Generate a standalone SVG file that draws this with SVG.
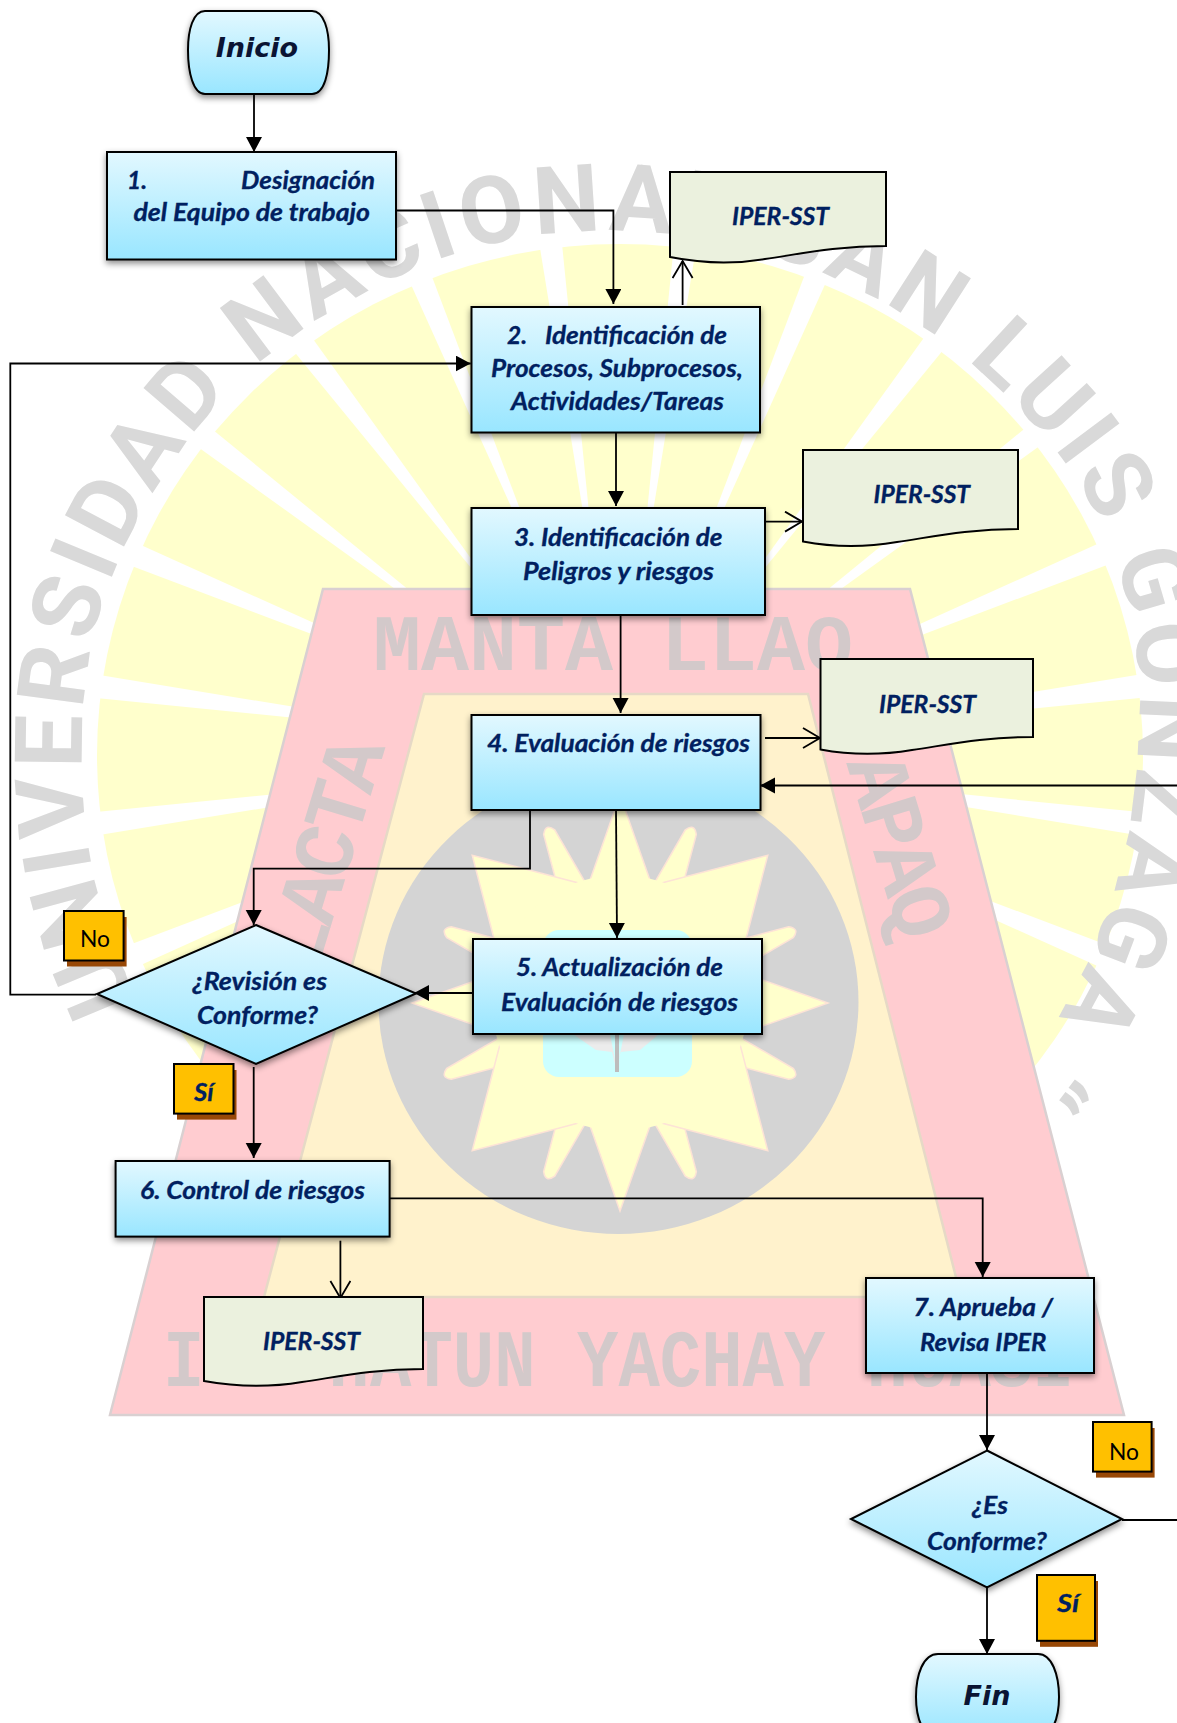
<svg xmlns="http://www.w3.org/2000/svg" width="1177" height="1723" viewBox="0 0 1177 1723">
<style>
text{font-family:"Lato","Open Sans","Liberation Sans",sans-serif}
.t{font-size:24px;font-weight:700;font-style:italic;fill:#002060;stroke:#002060;stroke-width:.3px}
.n{font-size:24px;font-weight:400;fill:#000}
.term{font-family:"DejaVu Sans",Verdana,sans-serif;font-size:27px;font-weight:700;font-style:italic;fill:#0a1433;text-anchor:middle}
.box{fill:url(#bg);stroke:#000;stroke-width:2;filter:url(#sh)}
.doc{fill:#ebf1de;stroke:#000;stroke-width:2}
.tag{fill:#ffc000;stroke:#000;stroke-width:2}
.tagsh{fill:#984806}
.c{fill:none;stroke:#000;stroke-width:1.8}
.solid{marker-end:url(#ah)}
.open{marker-end:url(#oh)}
.wm{font-family:"Liberation Mono",monospace;font-weight:700;fill:#d3c9ca}
.arc{font-family:Roboto,"Liberation Sans",sans-serif;font-size:94px;font-weight:700;fill:#d9d9d9;letter-spacing:5.8px}
</style>
<defs>
<linearGradient id="bg" x1="0" y1="0" x2="0" y2="1"><stop offset="0" stop-color="#e2f8ff"/><stop offset="1" stop-color="#99e6ff"/></linearGradient>
<filter id="sh" x="-10%" y="-10%" width="120%" height="125%"><feDropShadow dx="0" dy="3" stdDeviation="3" flood-color="#000" flood-opacity=".45"/></filter>
<marker id="ah" markerUnits="userSpaceOnUse" markerWidth="18" markerHeight="18" refX="15" refY="8" orient="auto"><path d="M0,0 L15,8 L0,16Z" fill="#000"/></marker>
<marker id="oh" markerUnits="userSpaceOnUse" markerWidth="22" markerHeight="24" refX="18" refY="11" orient="auto"><path d="M1,1 L18,11 L1,21" fill="none" stroke="#000" stroke-width="1.8"/></marker>
<polygon id="gap" points="0,-150 -12,-540 12,-540" fill="#fff"/>
<polygon id="rayA" points="-31,-120 0,-208 31,-120" fill="#ffffcc" stroke="#fde3d6" stroke-width="1.5"/>
<polygon id="rayB" points="-58,-110 0,-209 58,-110" fill="#ffffcc" stroke="#fde3d6" stroke-width="1.5"/>
<path id="rayC" d="M-14,-125 L-6,-185 Q0,-195 6,-185 L14,-125Z" fill="#ffffcc" stroke="#fde3d6" stroke-width="1.5"/>
<path id="ring" d="M150.4,1025 A530,530 0 0 1 98.3,894.3 A530,530 0 0 1 82,755 A530,530 0 0 1 98.3,615.7 A530,530 0 0 1 156.4,488.5 A530,530 0 0 1 241.8,378.8 A530,530 0 0 1 354.5,298.6 A530,530 0 0 1 481.6,245.9 A530,530 0 0 1 618,231 A530,530 0 0 1 753.1,250.8 A530,530 0 0 1 880,301.2 A530,530 0 0 1 991.3,381.6 A530,530 0 0 1 1082.2,487 A530,530 0 0 1 1131.9,617.3 A530,530 0 0 1 1137,755 A530,530 0 0 1 1114.5,888 A530,530 0 0 1 1061.4,1011 A530,530 0 0 1 980,1117 A530,530 0 0 1 870,1200"/>
</defs>

<g id="watermark">
<ellipse cx="620" cy="755" rx="523" ry="511" fill="#ffffcc"/>
<g transform="translate(618 755)">
<use href="#gap" transform="rotate(7.5)"/><use href="#gap" transform="rotate(22.5)"/><use href="#gap" transform="rotate(37.5)"/><use href="#gap" transform="rotate(52.5)"/><use href="#gap" transform="rotate(67.5)"/><use href="#gap" transform="rotate(82.5)"/><use href="#gap" transform="rotate(97.5)"/><use href="#gap" transform="rotate(112.5)"/>
<use href="#gap" transform="rotate(-7.5)"/><use href="#gap" transform="rotate(-22.5)"/><use href="#gap" transform="rotate(-37.5)"/><use href="#gap" transform="rotate(-52.5)"/><use href="#gap" transform="rotate(-67.5)"/><use href="#gap" transform="rotate(-82.5)"/><use href="#gap" transform="rotate(-97.5)"/><use href="#gap" transform="rotate(-112.5)"/>
</g>
<text class="arc"><textPath href="#ring" startOffset="28">UNIVERSIDAD NACIONAL SAN LUIS GONZAGA “</textPath></text>
<polygon points="323,589 910,589 1124,1415 110,1415" fill="#ffccd0" stroke="#d9d0d1" stroke-width="2.5"/>
<polygon points="424,694 808,694 961,1297 264,1297" fill="#fff2cc" stroke="#e6d9c6" stroke-width="2.5"/>
<ellipse cx="618.5" cy="1002" rx="240" ry="232" fill="#d4d4d4"/>
<g transform="translate(620 1003)">
<use href="#rayC" transform="rotate(22.5)"/><use href="#rayC" transform="rotate(67.5)"/><use href="#rayC" transform="rotate(112.5)"/><use href="#rayC" transform="rotate(157.5)"/><use href="#rayC" transform="rotate(202.5)"/><use href="#rayC" transform="rotate(247.5)"/><use href="#rayC" transform="rotate(292.5)"/><use href="#rayC" transform="rotate(337.5)"/>
<use href="#rayB" transform="rotate(45)"/><use href="#rayB" transform="rotate(135)"/><use href="#rayB" transform="rotate(225)"/><use href="#rayB" transform="rotate(315)"/>
<use href="#rayA"/><use href="#rayA" transform="rotate(90)"/><use href="#rayA" transform="rotate(180)"/><use href="#rayA" transform="rotate(270)"/>
<circle r="128" fill="#ffffcc"/>
</g>
<rect x="543" y="930" width="149" height="147" rx="16" fill="#ccffff"/>
<polygon points="570,1032 610,1034 617,1070 624,1034 664,1030 640,1050 620,1052 617,1072 612,1052 596,1050" fill="#ececec"/>
<rect x="615" y="1028" width="4" height="44" fill="#bdbdbd"/>
<text class="wm" x="373" y="670" font-size="80">MANTA LLAQ</text>
<text class="wm" transform="translate(163 1386) scale(1 1.18)" font-size="69" xml:space="preserve">I   HATUN YACHAY HUASI</text>
<text class="wm" transform="translate(384 752) rotate(-73)" font-size="85" letter-spacing="-5" text-anchor="end">LACTA</text>
<text class="wm" transform="translate(900 939) rotate(73)" font-size="85" letter-spacing="-5" text-anchor="end">APAQ</text>
</g>

<g id="connectors">
<path class="c solid" d="M254,94 V152"/>
<path class="c solid" d="M396,210.5 H613.4 V304"/>
<path class="c open" d="M682.6,305 V261"/>
<path class="c solid" d="M616,432 V506"/>
<path class="c open" d="M765,521.6 H802"/>
<path class="c solid" d="M620.6,615 V713"/>
<path class="c open" d="M765,738 H820"/>
<path class="c solid" d="M1177,785.5 H760"/>
<path class="c solid" d="M530,810 V868.6 H253.7 V925"/>
<path class="c solid" d="M616,810 L617,938"/>
<path class="c solid" d="M473,993 H414"/>
<path class="c solid" d="M96,994.6 H10.3 V363.5 H470.7"/>
<path class="c solid" d="M253.7,1067 V1158"/>
<path class="c solid" d="M390,1198.4 H982.7 V1277"/>
<path class="c open" d="M340.4,1240.7 V1298"/>
<path class="c solid" d="M987,1373 V1450"/>
<path class="c" d="M1122,1520 H1177"/>
<path class="c solid" d="M987,1587 V1654"/>
</g>

<g id="inicio"><path class="box" d="M205,11 H312 C324,11 329,30 329,50 C329,72 325,94 312,94 H205 C193,94 188,72 188,50 C188,30 193,11 205,11Z"/><text class="term" x="257" y="57">Inicio</text></g>
<g id="n1"><rect class="box" x="107" y="152" width="289" height="107.500"/><text class="t" x="127" y="188.500" textLength="20" lengthAdjust="spacingAndGlyphs">1.</text><text class="t" x="241" y="188.500" textLength="134" lengthAdjust="spacingAndGlyphs">Designación</text><text class="t" x="133.500" y="221" textLength="236.500" lengthAdjust="spacingAndGlyphs">del Equipo de trabajo</text></g>
<g id="n2"><rect class="box" x="471.500" y="307" width="288.500" height="125.500"/><text class="t" x="507" y="344" textLength="20" lengthAdjust="spacingAndGlyphs">2.</text><text class="t" x="545" y="344" textLength="182" lengthAdjust="spacingAndGlyphs">Identificación de</text><text class="t" x="491" y="376.500" textLength="252" lengthAdjust="spacingAndGlyphs">Procesos, Subprocesos,</text><text class="t" x="511" y="409.500" textLength="213" lengthAdjust="spacingAndGlyphs">Actividades/Tareas</text></g>
<g id="n3"><rect class="box" x="471.500" y="508" width="293.500" height="107"/><text class="t" x="514" y="545.500" textLength="208.500" lengthAdjust="spacingAndGlyphs">3. Identificación de</text><text class="t" x="523" y="579.500" textLength="191" lengthAdjust="spacingAndGlyphs">Peligros y riesgos</text></g>
<g id="n4"><rect class="box" x="471.500" y="715" width="289" height="95"/><text class="t" x="487" y="752" textLength="263" lengthAdjust="spacingAndGlyphs">4. Evaluación de riesgos</text></g>
<g id="n5"><rect class="box" x="473" y="939" width="289" height="95"/><text class="t" x="516" y="976" textLength="207" lengthAdjust="spacingAndGlyphs">5. Actualización de</text><text class="t" x="501" y="1010.500" textLength="237" lengthAdjust="spacingAndGlyphs">Evaluación de riesgos</text></g>
<g id="d1"><polygon class="box" points="256,925 416,993.500 256,1064 97,994"/><text class="t" x="192.500" y="989.600" textLength="134.500" lengthAdjust="spacingAndGlyphs">¿Revisión es</text><text class="t" x="197" y="1024" textLength="121" lengthAdjust="spacingAndGlyphs">Conforme?</text></g>
<g id="n6"><rect class="box" x="115.600" y="1161" width="274" height="75.600"/><text class="t" x="140" y="1199" textLength="225" lengthAdjust="spacingAndGlyphs">6. Control de riesgos</text></g>
<g id="n7"><rect class="box" x="866" y="1278" width="228" height="95"/><text class="t" x="913.500" y="1316" textLength="139.500" lengthAdjust="spacingAndGlyphs">7. Aprueba /</text><text class="t" x="920" y="1351" textLength="126.500" lengthAdjust="spacingAndGlyphs">Revisa IPER</text></g>
<g id="d2"><polygon class="box" points="987,1450.500 1122,1519 987,1587.500 851,1519"/><text class="t" x="972" y="1513.700" textLength="36" lengthAdjust="spacingAndGlyphs">¿Es</text><text class="t" x="927" y="1550" textLength="120" lengthAdjust="spacingAndGlyphs">Conforme?</text></g>
<g id="fin"><path class="box" d="M938,1654 H1038 C1052,1654 1059,1675 1059,1697 C1059,1718 1052,1738 1038,1738 H938 C923,1738 916,1718 916,1697 C916,1675 923,1654 938,1654Z"/><text class="term" x="987" y="1705">Fin</text></g>

<g id="doc1"><path class="doc" d="M670,172 H886 V246 C835,246 800,254 765,259 C730,265 700,263 670,257Z"/><text class="t" x="732" y="224.600" textLength="97" lengthAdjust="spacingAndGlyphs">IPER-SST</text></g>
<g id="doc2"><path class="doc" d="M803,450 H1018 V529 C967,529 932,537 897,542 C862,548 832,547 803,541.500Z"/><text class="t" x="873.600" y="503" textLength="96.400" lengthAdjust="spacingAndGlyphs">IPER-SST</text></g>
<g id="doc3"><path class="doc" d="M820.500,659 H1033 V737 C982,737 947,745 912,750 C877,756 850,755 820.500,749.500Z"/><text class="t" x="879" y="712.500" textLength="97" lengthAdjust="spacingAndGlyphs">IPER-SST</text></g>
<g id="doc4"><path class="doc" d="M204,1297 H423 V1369 C372,1369 337,1377 302,1382 C267,1388 237,1387 204,1381Z"/><text class="t" x="263" y="1350" textLength="97" lengthAdjust="spacingAndGlyphs">IPER-SST</text></g>

<g id="no1"><rect class="tagsh" x="67" y="917" width="59.600" height="49.500"/><rect class="tag" x="64" y="911" width="59.600" height="49.500"/><text class="n" x="80" y="947" textLength="30" lengthAdjust="spacingAndGlyphs">No</text></g>
<g id="si1"><rect class="tagsh" x="177" y="1070" width="59.500" height="49.600"/><rect class="tag" x="174" y="1064" width="59.500" height="49.600"/><text class="t" x="194" y="1101" textLength="19.500" lengthAdjust="spacingAndGlyphs">Sí</text></g>
<g id="no2"><rect class="tagsh" x="1096" y="1428" width="58.600" height="49.600"/><rect class="tag" x="1093" y="1422" width="58.600" height="49.600"/><text class="n" x="1109" y="1459.600" textLength="30" lengthAdjust="spacingAndGlyphs">No</text></g>
<g id="si2"><rect class="tagsh" x="1040" y="1581" width="58" height="65.800"/><rect class="tag" x="1037" y="1575" width="58" height="65.800"/><text class="t" x="1057" y="1611.600" textLength="22" lengthAdjust="spacingAndGlyphs">Sí</text></g>
</svg>
